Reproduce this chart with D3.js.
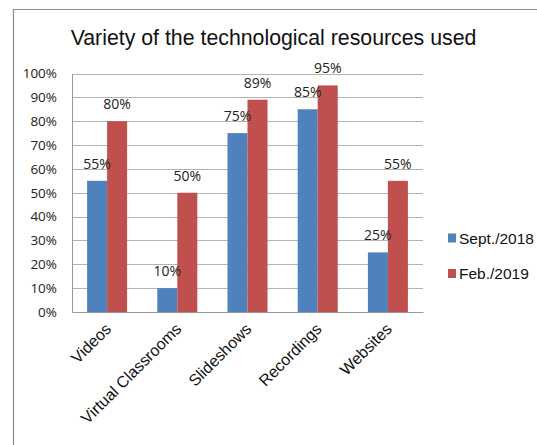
<!DOCTYPE html>
<html><head><meta charset="utf-8">
<script src="https://cdn.jsdelivr.net/npm/d3@7"></script>
<style>body{margin:0;background:#fff}svg{display:block}</style>
</head><body>
<script>
const categories = ["Videos","Virtual Classrooms","Slideshows","Recordings","Websites"];
const seriesNames = ["Sept./2018","Feb./2019"];
const sept2018 = [55,10,75,85,25];
const feb2019 = [80,50,89,95,55];
const yTicks = [0,10,20,30,40,50,60,70,80,90,100];
const colors = ["#4F81BD","#C0504D"];
const title = "Variety of the technological resources used";

const W=537,H=445;
const svg=d3.select("body").append("svg").attr("width",W).attr("height",H);
// frame
svg.append("path").attr("d","M13.5,445V9.5H537").attr("fill","none").attr("stroke","#8c8c8c").attr("stroke-width",1.2);

const m={l:72,r:423,t:73.5,b:312};
const x0=d3.scaleBand().domain(categories).range([m.l,m.r]).paddingInner(0.43).paddingOuter(0.215);
const x1=d3.scaleBand().domain(seriesNames).range([0,x0.bandwidth()]);
const y=d3.scaleLinear().domain([0,100]).range([m.b,m.t]);

// gridlines
svg.append("g").selectAll("line").data(yTicks.filter(d=>d>0)).join("line")
 .attr("x1",m.l).attr("x2",m.r).attr("y1",d=>Math.round(y(d))+0.5).attr("y2",d=>Math.round(y(d))+0.5)
 .attr("stroke","#b3b3b3").attr("stroke-width",1);

// y axis
const ya=svg.append("g").attr("transform",`translate(${m.l},0)`)
 .call(d3.axisLeft(y).tickValues(yTicks).tickFormat(d=>d+"%").tickSize(0).tickPadding(15));
ya.select(".domain").attr("stroke","#999");
ya.selectAll("text").attr("font-family","Open Sans").attr("font-size","13.5px").attr("fill","#222");

const data=categories.map((c,i)=>({c,vals:[sept2018[i],feb2019[i]]}));
const g=svg.append("g").selectAll("g").data(data).join("g").attr("transform",d=>`translate(${x0(d.c)},0)`);
g.selectAll("rect").data(d=>d.vals.map((v,j)=>({v,s:seriesNames[j],j}))).join("rect")
 .attr("x",d=>x1(d.s)).attr("width",x1.bandwidth()).attr("y",d=>y(d.v)).attr("height",d=>y(0)-y(d.v))
 .attr("fill",d=>colors[d.j]);
g.selectAll("text").data(d=>d.vals.map((v,j)=>({v,s:seriesNames[j],j}))).join("text")
 .attr("x",d=>x1(d.s)+x1.bandwidth()/2).attr("y",d=>y(d.v)-12)
 .attr("text-anchor","middle").attr("font-family","Open Sans").attr("font-size","14px").attr("fill","#222")
 .text(d=>d.v+"%");

// x axis
const xa=svg.append("g").attr("transform",`translate(0,${m.b})`)
 .call(d3.axisBottom(x0).tickSize(0).tickPadding(0));
xa.select(".domain").attr("stroke","#999");
xa.selectAll("text").attr("font-family","Liberation Sans, Arial").attr("font-size","16px").attr("fill","#111")
 .attr("text-anchor","end").attr("dy",0)
 .attr("transform","translate(5,18) rotate(-45)");

// title
svg.append("text").attr("x",273.5).attr("y",45).attr("text-anchor","middle")
 .attr("font-family","Liberation Sans, Arial").attr("font-size","21.3px").attr("fill","#111").text(title);

// legend
const lg=svg.append("g").selectAll("g").data(seriesNames).join("g")
 .attr("transform",(d,i)=>`translate(448,${238+i*35.5})`);
lg.append("rect").attr("x",0).attr("y",-4.5).attr("width",8).attr("height",9).attr("fill",(d,i)=>colors[i]);
lg.append("text").attr("x",11).attr("y",0).attr("dy","0.36em").attr("font-family","Liberation Sans, Arial")
 .attr("font-size","15.5px").attr("fill","#111").text(d=>d);
</script>
</body></html>
